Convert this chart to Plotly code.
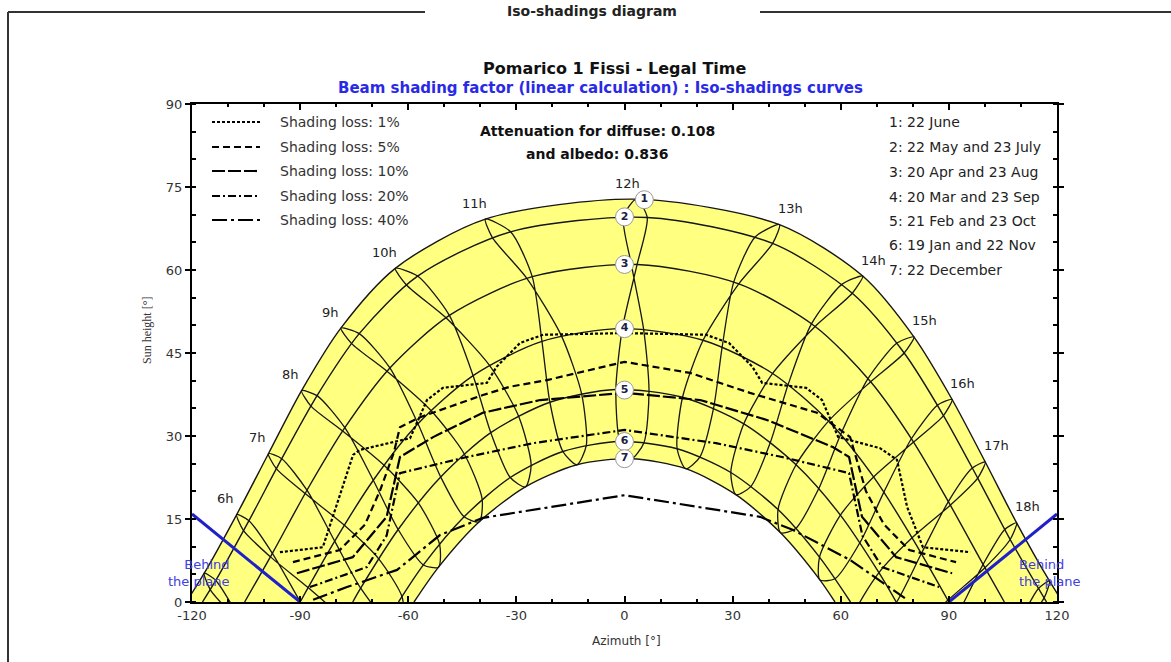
import plotly.graph_objects as go

# ---------------------------------------------------------------------------
# Sun positions (azimuth deg, sun height deg) at legal-time hours 5h..19h.
# None = hour not drawn for that date.
# ---------------------------------------------------------------------------
HOURS = list(range(5, 20))

jun22_az = [-116.6, -107.6, -98.8, -89.6, -78.7, -63.6, -38.6, 3.3, 43.0, 66.1, 80.3, 90.9, 100.1, 108.8, 117.9]
jun22_h = [5.2, 15.8, 26.8, 38.2, 49.5, 60.3, 69.2, 72.8, 68.2, 58.9, 47.9, 36.6, 25.3, 14.3, 3.8]

may22_az = [-113.4, -104.2, -95.1, -85.3, -73.6, -57.4, -31.6, 6.3, 41.1, 63.2, 77.6, 88.5, 98.0, 107.0, 116.4]
may22_h = [3.9, 14.7, 25.9, 37.3, 48.5, 58.9, 66.9, 69.5, 64.8, 55.8, 45.0, 33.7, 22.4, 11.3, 0.7]

jul23_az = [-114.9, -105.7, -96.6, -87.0, -75.7, -60.5, -36.7, -0.3, 36.3, 60.3, 75.6, 86.9, 96.5, 105.5, 114.8]
jul23_h = [2.2, 12.9, 24.1, 35.4, 46.7, 57.3, 65.9, 69.6, 66.0, 57.4, 46.8, 35.6, 24.2, 13.1, 2.4]

apr20_az = [-107.4, -97.7, -88.1, -77.6, -65.1, -48.6, -25.6, 3.5, 31.7, 52.9, 68.3, 80.2, 90.4, 100.0, 109.7]
apr20_h = [-2.3, 8.8, 20.2, 31.5, 42.3, 51.8, 58.8, 61.0, 57.5, 49.8, 39.8, 28.9, 17.5, 6.2, -4.8]

aug23_az = [-107.9, -98.3, -88.6, -78.2, -65.9, -49.6, -27.1, 1.9, 30.3, 51.9, 67.6, 79.6, 89.9, 99.5, 109.2]
aug23_h = [-2.9, 8.2, 19.6, 30.9, 41.7, 51.4, 58.5, 61.0, 57.8, 50.3, 40.4, 29.5, 18.2, 6.8, -4.2]

mar20_az = [None, -89.7, -80.4, -69.7, -57.3, -42.0, -22.9, -0.6, 21.8, 41.1, 56.6, 69.1, 79.8, 89.7, None]
mar20_h = [None, -0.3, 11.0, 22.0, 32.2, 40.9, 47.1, 49.4, 47.3, 41.3, 32.7, 22.6, 11.6, 0.3, None]

sep23_az = [None, -87.8, -77.8, -66.7, -53.7, -37.5, -17.5, 5.3, 27.1, 45.4, 60.0, 72.0, 82.4, 92.2, None]
sep23_h = [None, 2.6, 13.9, 24.7, 34.6, 42.8, 48.1, 49.3, 46.1, 39.3, 30.3, 19.9, 8.8, -2.6, None]

feb21_az = [None, -82.8, -73.2, -62.8, -51.0, -37.1, -20.7, -2.4, 16.1, 33.1, 47.6, 59.9, 70.6, 80.4, None]
feb21_h = [None, -8.6, 2.5, 13.1, 22.6, 30.6, 36.1, 38.4, 37.0, 32.2, 24.8, 15.7, 5.3, -5.7, None]

oct23_az = [None, -78.1, -68.2, -57.2, -44.5, -29.4, -11.9, 6.8, 24.7, 40.5, 53.9, 65.3, 75.5, 85.1, None]
oct23_h = [None, -3.1, 7.8, 17.9, 26.8, 33.6, 37.6, 38.2, 35.0, 28.9, 20.5, 10.7, 0.0, -11.2, None]

jan19_az = [None, None, -65.7, -55.8, -44.5, -31.7, -17.1, -1.3, 14.6, 29.5, 42.6, 54.1, 64.2, None, None]
jan19_h = [None, None, -3.3, 6.7, 15.4, 22.5, 27.2, 29.0, 27.7, 23.4, 16.7, 8.1, -1.6, None, None]

nov22_az = [None, -71.2, -61.7, -51.3, -39.5, -25.9, -10.6, 5.4, 20.9, 35.1, 47.5, 58.4, 68.1, None, None]
nov22_h = [None, -9.5, 0.9, 10.4, 18.6, 24.7, 28.3, 28.8, 26.2, 20.9, 13.3, 4.2, -5.9, None, None]

dec22_az = [None, None, -61.6, -51.6, -40.3, -27.5, -13.2, 1.9, 17.0, 30.9, 43.3, 54.2, 63.9, None, None]
dec22_h = [None, None, -3.2, 6.3, 14.5, 20.8, 24.8, 25.9, 24.1, 19.4, 12.5, 4.0, -5.8, None, None]

# The seven sun paths (1: 22 June ... 7: 22 December) and their horizon azimuth
path_keys = ["jun22", "may22", "apr20", "mar20", "feb21", "jan19", "dec22"]
horizon_az = [121.6, 117.1, 105.4, 90.0, 75.4, 62.7, 58.4]

# Numbered labels of the sun paths
path_labels = ["1", "2", "3", "4", "5", "6", "7"]
label_az = [5.5, 0.0, 0.0, 0.0, 0.0, 0.0, 0.0]
label_h = [72.7, 69.6, 61.0, 49.4, 38.3, 29.0, 25.9]

# Date order along an hour line (figure-of-eight through the year)
year_order = ["dec22", "jan19", "feb21", "mar20", "apr20", "may22", "jun22",
              "jul23", "aug23", "sep23", "oct23", "nov22", "dec22"]

date_legend = ["1: 22 June", "2: 22 May and 23 July", "3: 20 Apr and 23 Aug",
               "4: 20 Mar and 23 Sep", "5: 21 Feb and 23 Oct",
               "6: 19 Jan and 22 Nov", "7: 22 December"]

# Iso-shading curves (azimuth deg, sun height deg)
iso_names = ["Shading loss: 1%", "Shading loss: 5%", "Shading loss: 10%",
             "Shading loss: 20%", "Shading loss: 40%"]
iso1_az = [-95.6, -83.7, -75.3, -73.4, -59.5, -54.8, -50.4, -38.2, -35.5, -29.0, -22.6, 0.0,
           22.6, 29.0, 35.5, 38.2, 50.4, 54.8, 59.3, 70.9, 75.6, 78.4, 82.8, 95.9]
iso1_h = [9.0, 9.9, 26.6, 27.5, 29.6, 36.5, 38.7, 39.6, 42.5, 46.8, 48.3, 48.6,
          48.3, 46.8, 42.5, 39.6, 38.7, 36.5, 29.8, 27.8, 25.7, 17.2, 9.9, 9.0]
iso5_az = [-92.0, -79.0, -72.0, -67.8, -64.0, -62.3, -56.7, -39.3, -31.8, -21.5, 0.0,
           18.2, 34.8, 53.4, 62.6, 67.0, 72.0, 79.0, 92.0]
iso5_h = [7.2, 9.4, 14.0, 20.2, 27.0, 31.6, 33.4, 37.4, 38.9, 40.1, 43.4,
          41.4, 37.8, 34.2, 29.8, 20.0, 14.0, 9.4, 7.2]
iso10_az = [-90.9, -75.4, -66.0, -62.3, -53.1, -39.3, -23.4, 0.0, 21.0, 39.5, 57.8, 62.3, 65.9, 75.4, 90.9]
iso10_h = [5.2, 8.1, 15.4, 26.2, 29.8, 34.2, 36.5, 37.8, 36.5, 32.9, 28.0, 26.2, 15.4, 8.1, 5.2]
iso20_az = [-87.3, -71.5, -66.0, -62.3, -43.7, -25.4, 0.0, 25.4, 43.7, 62.3, 66.0, 71.5, 87.3]
iso20_h = [2.7, 6.3, 12.0, 23.3, 26.2, 28.7, 31.1, 28.7, 26.2, 23.3, 12.0, 6.3, 2.7]
iso40_az = [-86.4, -77.0, -63.1, -51.2, -39.3, 0.0, 37.6, 46.8, 62.6, 77.8]
iso40_h = [0.4, 2.7, 5.8, 12.1, 15.2, 19.3, 15.4, 13.0, 7.6, 0.7]
iso_dash = ["3px,2px", "7px,4px", "13px,3px", "8px,3px,2px,3px", "15px,4px,3px,4px"]

# "Behind the plane" limits
behind_left_az = [-120, -90]
behind_left_h = [15.9, 0]
behind_right_az = [90, 120]
behind_right_h = [0, 15.9]

x_ticks = [-120, -90, -60, -30, 0, 30, 60, 90, 120]
y_ticks = [0, 15, 30, 45, 60, 75, 90]

# ---------------------------------------------------------------------------
dates = {
    "jun22": (jun22_az, jun22_h), "may22": (may22_az, may22_h), "jul23": (jul23_az, jul23_h),
    "apr20": (apr20_az, apr20_h), "aug23": (aug23_az, aug23_h), "mar20": (mar20_az, mar20_h),
    "sep23": (sep23_az, sep23_h), "feb21": (feb21_az, feb21_h), "oct23": (oct23_az, oct23_h),
    "jan19": (jan19_az, jan19_h), "nov22": (nov22_az, nov22_h), "dec22": (dec22_az, dec22_h),
}

# plot area in pixels
W, H = 1171, 662
L, R, T, B = 192, 1057, 104, 602
FONT = "DejaVu Sans"


def px(x):
    return (x - L) / (R - L)


def py(y):
    return (B - y) / (B - T)


def sun_path(key, hz):
    az, h = dates[key]
    xs, ys = [-hz], [0.0]
    for a, v in zip(az, h):
        if a is not None and v > 1.0:
            xs.append(a)
            ys.append(v)
    xs.append(hz)
    ys.append(0.0)
    return xs, ys


INK = "#161616"
fig = go.Figure()

# yellow band between the June and December paths
jx, jy = sun_path("jun22", horizon_az[0])
dx, dy = sun_path("dec22", horizon_az[-1])
fig.add_trace(go.Scatter(x=jx, y=jy, mode="lines", line=dict(width=0, shape="spline", smoothing=0.8),
                         fill="tozeroy", fillcolor="#ffff80", hoverinfo="skip"))
fig.add_trace(go.Scatter(x=dx, y=dy, mode="lines", line=dict(width=0, shape="spline", smoothing=0.8),
                         fill="tozeroy", fillcolor="white", hoverinfo="skip"))

# hour lines
for i, hr in enumerate(HOURS):
    xs, ys = [], []
    for key in year_order:
        a = dates[key][0][i]
        v = dates[key][1][i]
        if a is not None:
            xs.append(a)
            ys.append(v)
    fig.add_trace(go.Scatter(x=xs, y=ys, mode="lines",
                             line=dict(color=INK, width=1.3, shape="spline", smoothing=0.7),
                             hoverinfo="skip"))

# sun paths
for key, hz in zip(path_keys, horizon_az):
    xs, ys = sun_path(key, hz)
    fig.add_trace(go.Scatter(x=xs, y=ys, mode="lines",
                             line=dict(color=INK, width=1.4, shape="spline", smoothing=0.8),
                             hoverinfo="skip"))

# iso-shading curves
iso_data = [(iso1_az, iso1_h), (iso5_az, iso5_h), (iso10_az, iso10_h),
            (iso20_az, iso20_h), (iso40_az, iso40_h)]
for (xs, ys), dsh in zip(iso_data, iso_dash):
    fig.add_trace(go.Scatter(x=xs, y=ys, mode="lines",
                             line=dict(color="black", width=2.2, dash=dsh),
                             hoverinfo="skip"))

# behind the plane limits
for xs, ys in [(behind_left_az, behind_left_h), (behind_right_az, behind_right_h)]:
    fig.add_trace(go.Scatter(x=xs, y=ys, mode="lines", line=dict(color="#2020c8", width=3),
                             hoverinfo="skip", cliponaxis=False))

# numbered sun-path labels
fig.add_trace(go.Scatter(x=label_az, y=label_h, mode="markers+text", text=[f"<b>{t}</b>" for t in path_labels],
                         textposition="middle center",
                         textfont=dict(family=FONT, size=11, color="#202040"),
                         marker=dict(size=18, color="white", line=dict(color="#999999", width=1)),
                         hoverinfo="skip", cliponaxis=False))

annotations = []
# hour labels placed next to the 22 June points
for i, hr in enumerate(HOURS):
    if hr < 6 or hr > 18:
        continue
    a, v = jun22_az[i], jun22_h[i]
    off = -3.0 if hr < 12 else (3.0 if hr > 12 else -2.6)
    annotations.append(dict(x=a + off, y=v + 2.9, xref="x", yref="y", text=f"{hr}h",
                            font=dict(family=FONT, size=13, color="#222222")))

# titles and free texts
annotations += [
    dict(x=px(592), y=py(11), text="<b>Iso-shadings diagram</b>",
         font=dict(family=FONT, size=14, color="#222222")),
    dict(x=px(614), y=py(68), text="<b>Pomarico 1 Fissi - Legal Time</b>",
         font=dict(family=FONT, size=16, color="#111111")),
    dict(x=px(600), y=py(88), text="<b>Beam shading factor (linear calculation) : Iso-shadings curves</b>",
         font=dict(family=FONT, size=15, color="#2a2ae6")),
    dict(x=px(597), y=py(131), text="<b>Attenuation for diffuse: 0.108</b>",
         font=dict(family=FONT, size=14, color="#111111")),
    dict(x=px(597), y=py(154), text="<b>and albedo: 0.836</b>",
         font=dict(family=FONT, size=14, color="#111111")),
    dict(x=px(626), y=py(641), text="Azimuth [°]", font=dict(family=FONT, size=12, color="#333333")),
    dict(x=px(147), y=py(331), text="Sun height [°]", textangle=-90,
         font=dict(family="Liberation Serif", size=12, color="#333333")),
    dict(x=-108.9, y=5.3, xref="x", yref="y", xanchor="right", align="right",
         text="Behind<br>the plane", font=dict(family=FONT, size=13, color="#4040e0")),
    dict(x=108.9, y=5.3, xref="x", yref="y", xanchor="left", align="left",
         text="Behind<br>the plane", font=dict(family=FONT, size=13, color="#4040e0")),
]

shapes = []
legend_rows = [122, 147, 171, 196, 220]
for name, dsh, ry in zip(iso_names, iso_dash, legend_rows):
    shapes.append(dict(type="line", xref="paper", yref="paper", x0=px(212), x1=px(260),
                       y0=py(ry), y1=py(ry), line=dict(color="black", width=2.2, dash=dsh)))
    annotations.append(dict(x=px(278), y=py(ry), xanchor="left", text=name,
                            font=dict(family=FONT, size=14, color="#333333")))

date_rows = [122, 147, 172, 197, 221, 245, 270]
for txt, ry in zip(date_legend, date_rows):
    annotations.append(dict(x=px(887), y=py(ry), xanchor="left", text=txt,
                            font=dict(family=FONT, size=14, color="#222222")))

for a in annotations:
    a.setdefault("xref", "paper")
    a.setdefault("yref", "paper")
    a.setdefault("xanchor", "center")
    a.setdefault("yanchor", "middle")
    a.setdefault("showarrow", False)

# outer frame of the page section
frame = dict(color="#333333", width=2)
shapes += [
    dict(type="line", xref="paper", yref="paper", x0=px(8), x1=px(8), y0=py(12), y1=py(680), line=frame),
    dict(type="line", xref="paper", yref="paper", x0=px(8), x1=px(425), y0=py(12), y1=py(12), line=frame),
    dict(type="line", xref="paper", yref="paper", x0=px(760), x1=px(1180), y0=py(12), y1=py(12), line=frame),
]

tick_font = dict(family=FONT, size=13, color="#333333")
fig.update_layout(
    width=W, height=H,
    margin=dict(l=L, r=W - R, t=T, b=H - B),
    paper_bgcolor="white", plot_bgcolor="white",
    showlegend=False,
    annotations=annotations,
    shapes=shapes,
    xaxis=dict(range=[-120, 120], tickvals=x_ticks, ticktext=[str(v) for v in x_ticks],
               ticks="inside", ticklen=6, tickwidth=1.5, tickcolor="black",
               minor=dict(dtick=10, ticks="inside", ticklen=3, tickcolor="black"),
               showline=True, linewidth=2, linecolor="black", mirror="ticks",
               showgrid=False, zeroline=False, tickfont=tick_font),
    yaxis=dict(range=[0, 90], tickvals=y_ticks, ticktext=[str(v) for v in y_ticks],
               ticks="outside", ticklen=5, tickwidth=1.5, tickcolor="black",
               minor=dict(dtick=5, ticks="inside", ticklen=4, tickcolor="black"),
               showline=True, linewidth=2, linecolor="black", mirror="ticks",
               showgrid=False, zeroline=False, tickfont=tick_font),
)

fig.write_html("out.html")
